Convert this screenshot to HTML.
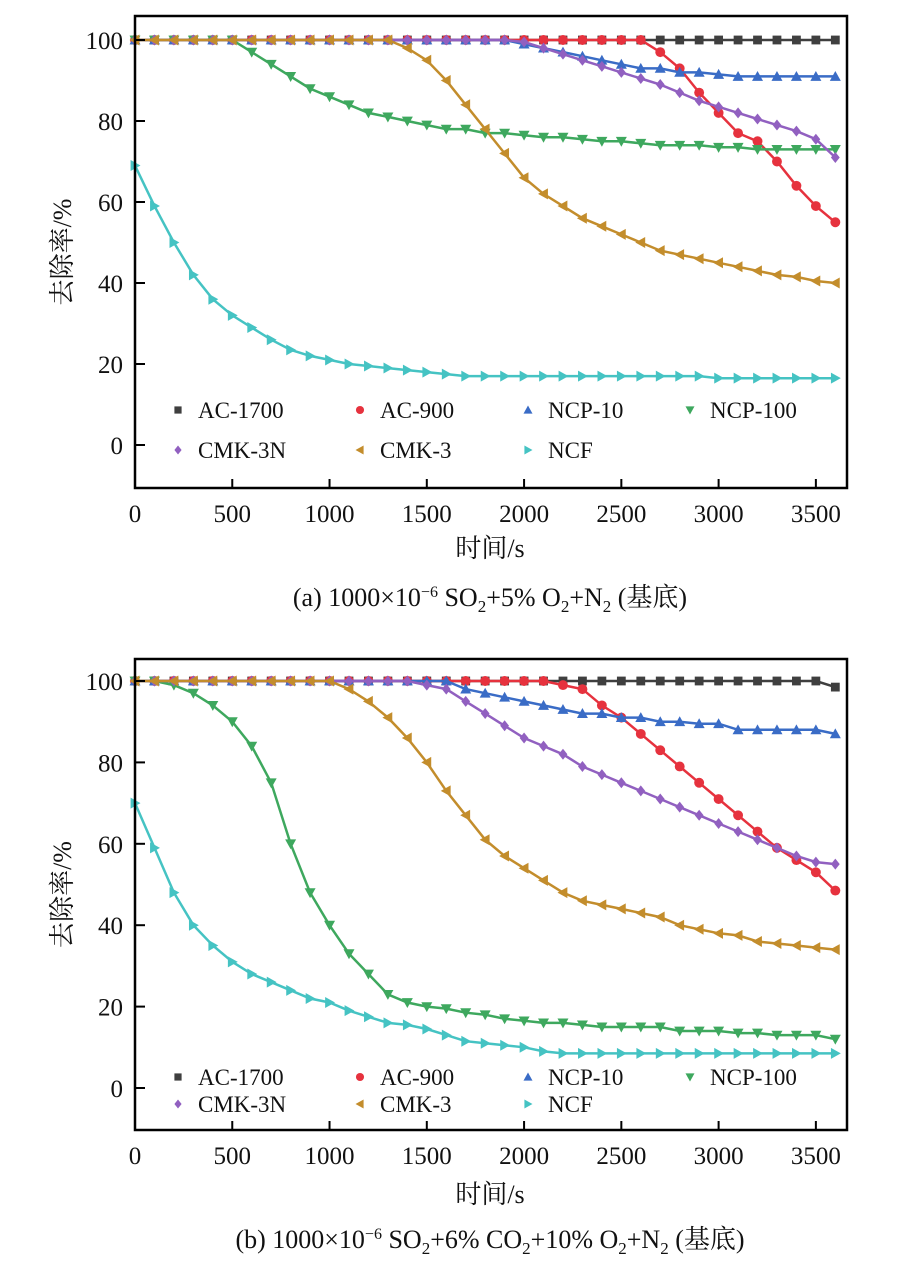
<!DOCTYPE html>
<html><head><meta charset="utf-8">
<style>
body{margin:0;background:#fff;}
svg{display:block;font-family:"Liberation Serif","Noto Serif CJK SC","Noto Sans CJK SC",serif;}
</style></head>
<body>
<svg id="chart" width="912" height="1272" viewBox="0 0 912 1272" xmlns="http://www.w3.org/2000/svg"></svg>
<script>
const times = [0,100,200,300,400,500,600,700,800,900,1000,1100,1200,1300,1400,1500,1600,1700,1800,1900,2000,2100,2200,2300,2400,2500,2600,2700,2800,2900,3000,3100,3200,3300,3400,3500,3600];
const seriesNames = ["AC-1700","AC-900","NCP-10","NCP-100","CMK-3N","CMK-3","NCF"];
const xTicks = [0,500,1000,1500,2000,2500,3000,3500];
const yTicks = [0,20,40,60,80,100];

// Panel (a)
const a_AC1700 = [100,100,100,100,100,100,100,100,100,100,100,100,100,100,100,100,100,100,100,100,100,100,100,100,100,100,100,100,100,100,100,100,100,100,100,100,100];
const a_AC900 = [100,100,100,100,100,100,100,100,100,100,100,100,100,100,100,100,100,100,100,100,100,100,100,100,100,100,100,97,93,87,82,77,75,70,64,59,55];
const a_NCP10 = [100,100,100,100,100,100,100,100,100,100,100,100,100,100,100,100,100,100,100,100,99,98,97,96,95,94,93,93,92,92,91.5,91,91,91,91,91,91];
const a_NCP100 = [100,100,100,100,100,100,97,94,91,88,86,84,82,81,80,79,78,78,77,77,76.5,76,76,75.5,75,75,74.5,74,74,74,73.5,73.5,73,73,73,73,73];
const a_CMK3N = [100,100,100,100,100,100,100,100,100,100,100,100,100,100,100,100,100,100,100,100,99.5,98,96.5,95,93.5,92,90.5,89,87,85,83.5,82,80.5,79,77.5,75.5,71];
const a_CMK3 = [100,100,100,100,100,100,100,100,100,100,100,100,100,100,98,95,90,84,78,72,66,62,59,56,54,52,50,48,47,46,45,44,43,42,41.5,40.5,40];
const a_NCF = [69,59,50,42,36,32,29,26,23.5,22,21,20,19.5,19,18.5,18,17.5,17,17,17,17,17,17,17,17,17,17,17,17,17,16.5,16.5,16.5,16.5,16.5,16.5,16.5];

// Panel (b)
const b_AC1700 = [100,100,100,100,100,100,100,100,100,100,100,100,100,100,100,100,100,100,100,100,100,100,100,100,100,100,100,100,100,100,100,100,100,100,100,100,98.5];
const b_AC900 = [100,100,100,100,100,100,100,100,100,100,100,100,100,100,100,100,100,100,100,100,100,100,99,98,94,91,87,83,79,75,71,67,63,59,56,53,48.5];
const b_NCP10 = [100,100,100,100,100,100,100,100,100,100,100,100,100,100,100,100,100,98,97,96,95,94,93,92,92,91,91,90,90,89.5,89.5,88,88,88,88,88,87];
const b_NCP100 = [100,100,99,97,94,90,84,75,60,48,40,33,28,23,21,20,19.5,18.5,18,17,16.5,16,16,15.5,15,15,15,15,14,14,14,13.5,13.5,13,13,13,12];
const b_CMK3N = [100,100,100,100,100,100,100,100,100,100,100,100,100,100,100,99,98,95,92,89,86,84,82,79,77,75,73,71,69,67,65,63,61,59,57,55.5,55];
const b_CMK3 = [100,100,100,100,100,100,100,100,100,100,100,98,95,91,86,80,73,67,61,57,54,51,48,46,45,44,43,42,40,39,38,37.5,36,35.5,35,34.5,34];
const b_NCF = [70,59,48,40,35,31,28,26,24,22,21,19,17.5,16,15.5,14.5,13,11.5,11,10.5,10,9,8.5,8.5,8.5,8.5,8.5,8.5,8.5,8.5,8.5,8.5,8.5,8.5,8.5,8.5,8.5];

const colors = ["#3f3f3f","#e6323e","#3a6cc6","#3ea85e","#9160c0","#c38d2c","#45c3c3"];
const shapes = ["square","circle","up","down","diamond","left","right"];

const NS = "http://www.w3.org/2000/svg";
const svg = document.getElementById("chart");
function mk(tag, attrs, parent){
  const e = document.createElementNS(NS, tag);
  for (const k in attrs) e.setAttribute(k, attrs[k]);
  (parent||svg).appendChild(e);
  return e;
}
function marker(shape, x, y, r, color, parent){
  let e;
  if (shape==="square") e = mk("rect",{x:x-r*0.8,y:y-r*0.8,width:r*1.6,height:r*1.6,fill:color},parent);
  else if (shape==="circle") e = mk("circle",{cx:x,cy:y,r:r*0.9,fill:color},parent);
  else {
    let p;
    if (shape==="up") p=[[x,y-r],[x-r,y+r*0.8],[x+r,y+r*0.8]];
    else if (shape==="down") p=[[x,y+r],[x-r,y-r*0.8],[x+r,y-r*0.8]];
    else if (shape==="left") p=[[x-r,y],[x+r*0.8,y-r],[x+r*0.8,y+r]];
    else if (shape==="right") p=[[x+r,y],[x-r*0.8,y-r],[x-r*0.8,y+r]];
    else p=[[x,y-r],[x+r*0.8,y],[x,y+r],[x-r*0.8,y]];
    e = mk("polygon",{points:p.map(q=>q.join(",")).join(" "),fill:color},parent);
  }
  return e;
}

function drawPanel(id, g, data, legendRows, xLabelY, caption, captionY){
  const grp = mk("g",{});
  
  
  const xS = v => g.x0 + (v - 0) * (g.x1 - g.x0) / (3660 - 0);
  const yS = v => g.y0 + (v - 0) * (g.y100 - g.y0) / 100;
  data.forEach((arr, si) => {
    const sg = mk("g",{},grp);
    
    
    const pts = arr.map((v,i)=>xS(times[i]).toFixed(1)+","+yS(v).toFixed(1)).join(" ");
    const pl = mk("polyline",{points:pts,fill:"none",stroke:colors[si],"stroke-width":2.5},sg);
    
    
    arr.forEach((v,i)=>{
      const m = marker(shapes[si], xS(times[i]), yS(v), 5.5, colors[si], sg);
      
      
    });
  });
  const fr = mk("rect",{x:g.x0,y:g.top,width:g.x1-g.x0,height:g.bottom-g.top,fill:"none",stroke:"#000","stroke-width":2.5},grp);
  
  
  xTicks.forEach(t=>{
    const x = xS(t);
    mk("line",{x1:x,x2:x,y1:g.bottom,y2:g.bottom-9,stroke:"#000","stroke-width":2},grp);
    const tx = mk("text",{x:x,y:g.bottom+34,"font-size":25,"text-anchor":"middle",fill:"#111"},grp);
    tx.textContent = t;
    
    
  });
  yTicks.forEach(t=>{
    const y = yS(t);
    mk("line",{x1:g.x0,x2:g.x0+10,y1:y,y2:y,stroke:"#000","stroke-width":2},grp);
    const tx = mk("text",{x:g.x0-12,y:y+9,"font-size":25,"text-anchor":"end",fill:"#111"},grp);
    tx.textContent = t;
    
    
  });
  const cy = (g.top+g.bottom)/2;
  const yl = mk("text",{x:0,y:0,"font-size":26,"text-anchor":"middle",fill:"#111",transform:`translate(${g.x0-64},${cy}) rotate(-90)`},grp);
  yl.textContent = "去除率/%";
  
  
  const xl = mk("text",{x:490,y:xLabelY,"font-size":26,"text-anchor":"middle",fill:"#111"},grp);
  xl.textContent = "时间/s";
  
  
  const cols = [178,360,528,690];
  seriesNames.forEach((n,i)=>{
    const row = i<4?0:1, col = i<4?i:i-4;
    const lg = mk("g",{},grp);
    
    
    const mx = cols[col], my = legendRows[row];
    marker(shapes[i], mx, my, 4.5, colors[i], lg);
    const t = mk("text",{x:mx+20,y:my+8,"font-size":23,fill:"#111"},lg);
    t.textContent = n;
  });
  const cap = mk("text",{x:490,y:captionY,"font-size":26,"text-anchor":"middle",fill:"#111"},grp);
  cap.innerHTML = caption;
  
  
}

drawPanel("a",{x0:135,x1:847,top:16,bottom:488,y0:445,y100:40},
  [a_AC1700,a_AC900,a_NCP10,a_NCP100,a_CMK3N,a_CMK3,a_NCF],[410,450],557,
  '(a) 1000×10<tspan dy="-9" font-size="16">−6</tspan><tspan dy="9"> SO</tspan><tspan dy="6" font-size="17">2</tspan><tspan dy="-6">+5% O</tspan><tspan dy="6" font-size="17">2</tspan><tspan dy="-6">+N</tspan><tspan dy="6" font-size="17">2</tspan><tspan dy="-6"> (基底)</tspan>',606);
drawPanel("b",{x0:135,x1:847,top:659,bottom:1130,y0:1088,y100:681},
  [b_AC1700,b_AC900,b_NCP10,b_NCP100,b_CMK3N,b_CMK3,b_NCF],[1077,1104],1203,
  '(b) 1000×10<tspan dy="-9" font-size="16">−6</tspan><tspan dy="9"> SO</tspan><tspan dy="6" font-size="17">2</tspan><tspan dy="-6">+6% CO</tspan><tspan dy="6" font-size="17">2</tspan><tspan dy="-6">+10% O</tspan><tspan dy="6" font-size="17">2</tspan><tspan dy="-6">+N</tspan><tspan dy="6" font-size="17">2</tspan><tspan dy="-6"> (基底)</tspan>',1248);
</script>
</body></html>
